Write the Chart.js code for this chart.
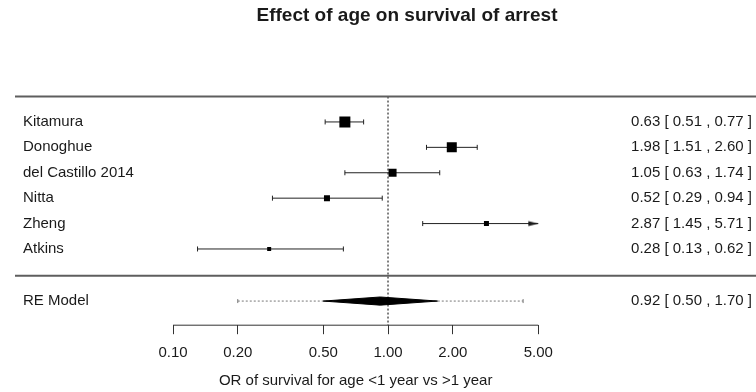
<!DOCTYPE html>
<html>
<head>
<meta charset="utf-8">
<script src="https://cdn.jsdelivr.net/npm/chart.js@4.4.1/dist/chart.umd.min.js"></script>
<style>
  html, body { margin: 0; padding: 0; background: #fff; }
  #wrap { width: 756px; height: 392px; }
</style>
</head>
<body>
<div id="wrap"><canvas id="forest"></canvas></div>
<script>
// Study data
const studies = ["Kitamura", "Donoghue", "del Castillo 2014", "Nitta", "Zheng", "Atkins"];
const oddsRatio = [0.63, 1.98, 1.05, 0.52, 2.87, 0.28];
const ciLow = [0.51, 1.51, 0.63, 0.29, 1.45, 0.13];
const ciHigh = [0.77, 2.60, 1.74, 0.94, 5.71, 0.62];

// Random effects summary
const reLabel = "RE Model";
const reEst = 0.92;
const reLow = 0.50;
const reHigh = 1.70;
const piLow = 0.20;
const piHigh = 4.25;

// Axis
const xTicks = [0.1, 0.2, 0.5, 1, 2, 5];
const axisTitle = "OR of survival for age <1 year vs >1 year";
const chartTitle = "Effect of age on survival of arrest";

// Layout / style (not data)
const boxSize = [11, 10, 8, 6, 5, 4];   // square side in px
const alimLow = 0.1, alimHigh = 5;
const xMin = 0.0184, xMax = 51.5;
const rowTop = 7, rowSep = -0.05, rowRE = -1.05, rowAxis = -2;
const FONT = '"Liberation Sans", Arial, sans-serif';
const ink = "#1a1a1a";

const studyRows = studies.map((s, i) => studies.length - i);

// arrow head for CIs past the axis limit (tip at canvas centre)
const arrow = document.createElement('canvas');
arrow.width = 22; arrow.height = 8;
(function () {
    const c = arrow.getContext('2d');
    c.fillStyle = ink;
    c.beginPath();
    c.moveTo(11, 4);
    c.lineTo(1, 1.5);
    c.lineTo(1, 6.5);
    c.closePath();
    c.fill();
})();

const datasets = [];

// horizontal rules
[rowTop, rowSep].forEach(r => datasets.push({
    data: [{ x: xMin, y: r }, { x: xMax, y: r }],
    borderColor: "#5e5e5e", borderWidth: 2, pointRadius: 0, clip: false, order: 5
}));

// reference line at OR = 1
datasets.push({
    data: [{ x: 1, y: rowTop }, { x: 1, y: rowAxis }],
    borderColor: "#555", borderWidth: 1.5, borderDash: [2, 2], pointRadius: 0, order: 6
});

// axis line
datasets.push({
    data: [{ x: alimLow, y: rowAxis }, { x: alimHigh, y: rowAxis }],
    borderColor: "#333", borderWidth: 1, pointRadius: 0, clip: false, order: 5
});

// confidence intervals
studies.forEach((s, i) => {
    const cut = ciHigh[i] > alimHigh;
    datasets.push({
        data: [{ x: Math.max(ciLow[i], alimLow), y: studyRows[i] }, { x: Math.min(ciHigh[i], alimHigh), y: studyRows[i] }],
        borderColor: "#222", borderWidth: 1,
        pointStyle: ['line', cut ? arrow : 'line'],
        pointRotation: [90, cut ? 0 : 90],
        pointRadius: 2.5, pointBorderWidth: 1, pointBorderColor: "#222",
        order: 3
    });
});

// squares
datasets.push({
    data: studies.map((s, i) => ({ x: oddsRatio[i], y: studyRows[i] })),
    showLine: false,
    pointStyle: 'rect',
    pointRadius: boxSize.map(b => b / Math.SQRT2),
    pointBorderWidth: 0,
    pointBackgroundColor: "#000",
    order: 1
});

// prediction interval
datasets.push({
    data: [{ x: piLow, y: rowRE }, { x: piHigh, y: rowRE }],
    borderColor: "#777", borderWidth: 1, borderDash: [2, 2],
    pointStyle: 'line', pointRotation: 90, pointRadius: 2, pointBorderWidth: 1, pointBorderColor: "#777",
    order: 4
});

// summary diamond (upper half, then lower half filled to it)
const dh = 0.16;
datasets.push({
    data: [{ x: reLow, y: rowRE }, { x: reEst, y: rowRE + dh }, { x: reHigh, y: rowRE }],
    borderColor: "#000", borderWidth: 1, pointRadius: 0, order: 2
});
datasets.push({
    data: [{ x: reLow, y: rowRE }, { x: reEst, y: rowRE - dh }, { x: reHigh, y: rowRE }],
    borderColor: "#000", borderWidth: 1, pointRadius: 0,
    fill: '-1', backgroundColor: "#000", order: 2
});

// texts
const textPlugin = {
    id: 'forestText',
    afterDraw(chart) {
        const ctx = chart.ctx;
        const xs = chart.scales.x, ys = chart.scales.y;
        ctx.save();
        ctx.fillStyle = ink;
        ctx.textBaseline = 'middle';

        ctx.font = 'bold 19px ' + FONT;
        ctx.textAlign = 'center';
        ctx.fillText(chartTitle, 407, 16);

        ctx.font = '15px ' + FONT;
        ctx.textAlign = 'left';
        studies.forEach((s, i) => ctx.fillText(s, 23, ys.getPixelForValue(studyRows[i])));
        ctx.fillText(reLabel, 23, ys.getPixelForValue(rowRE));

        const fmt = (e, l, h) => e.toFixed(2) + ' [ ' + l.toFixed(2) + ' , ' + h.toFixed(2) + ' ]';
        ctx.textAlign = 'right';
        studies.forEach((s, i) => ctx.fillText(fmt(oddsRatio[i], ciLow[i], ciHigh[i]), 752, ys.getPixelForValue(studyRows[i])));
        ctx.fillText(fmt(reEst, reLow, reHigh), 752, ys.getPixelForValue(rowRE));

        ctx.textAlign = 'center';
        const cx = (xs.getPixelForValue(alimLow) + xs.getPixelForValue(alimHigh)) / 2;
        ctx.fillText(axisTitle, cx, 381);
        ctx.restore();
    }
};

new Chart(document.getElementById('forest'), {
    type: 'line',
    data: { datasets: datasets },
    plugins: [textPlugin],
    options: {
        responsive: true,
        maintainAspectRatio: false,
        animation: false,
        events: [],
        layout: { autoPadding: false, padding: { top: 94, bottom: 19.8, left: 15, right: 0 } },
        plugins: { legend: { display: false }, tooltip: { enabled: false }, title: { display: false } },
        scales: {
            x: {
                type: 'logarithmic',
                min: xMin, max: xMax,
                afterBuildTicks: s => { s.ticks = xTicks.map(v => ({ value: v })); },
                afterFit: s => { s.paddingLeft = 0; s.paddingRight = 0; },
                ticks: {
                    callback: v => Number(v).toFixed(2),
                    autoSkip: false, maxRotation: 0,
                    padding: 10, color: ink,
                    font: { family: FONT, size: 15 }
                },
                grid: { drawOnChartArea: false, drawTicks: true, tickLength: 9, color: "#333", lineWidth: 1 },
                border: { display: false }
            },
            y: { type: 'linear', min: rowAxis, max: 7.1, display: false }
        }
    }
});
</script>
</body>
</html>
